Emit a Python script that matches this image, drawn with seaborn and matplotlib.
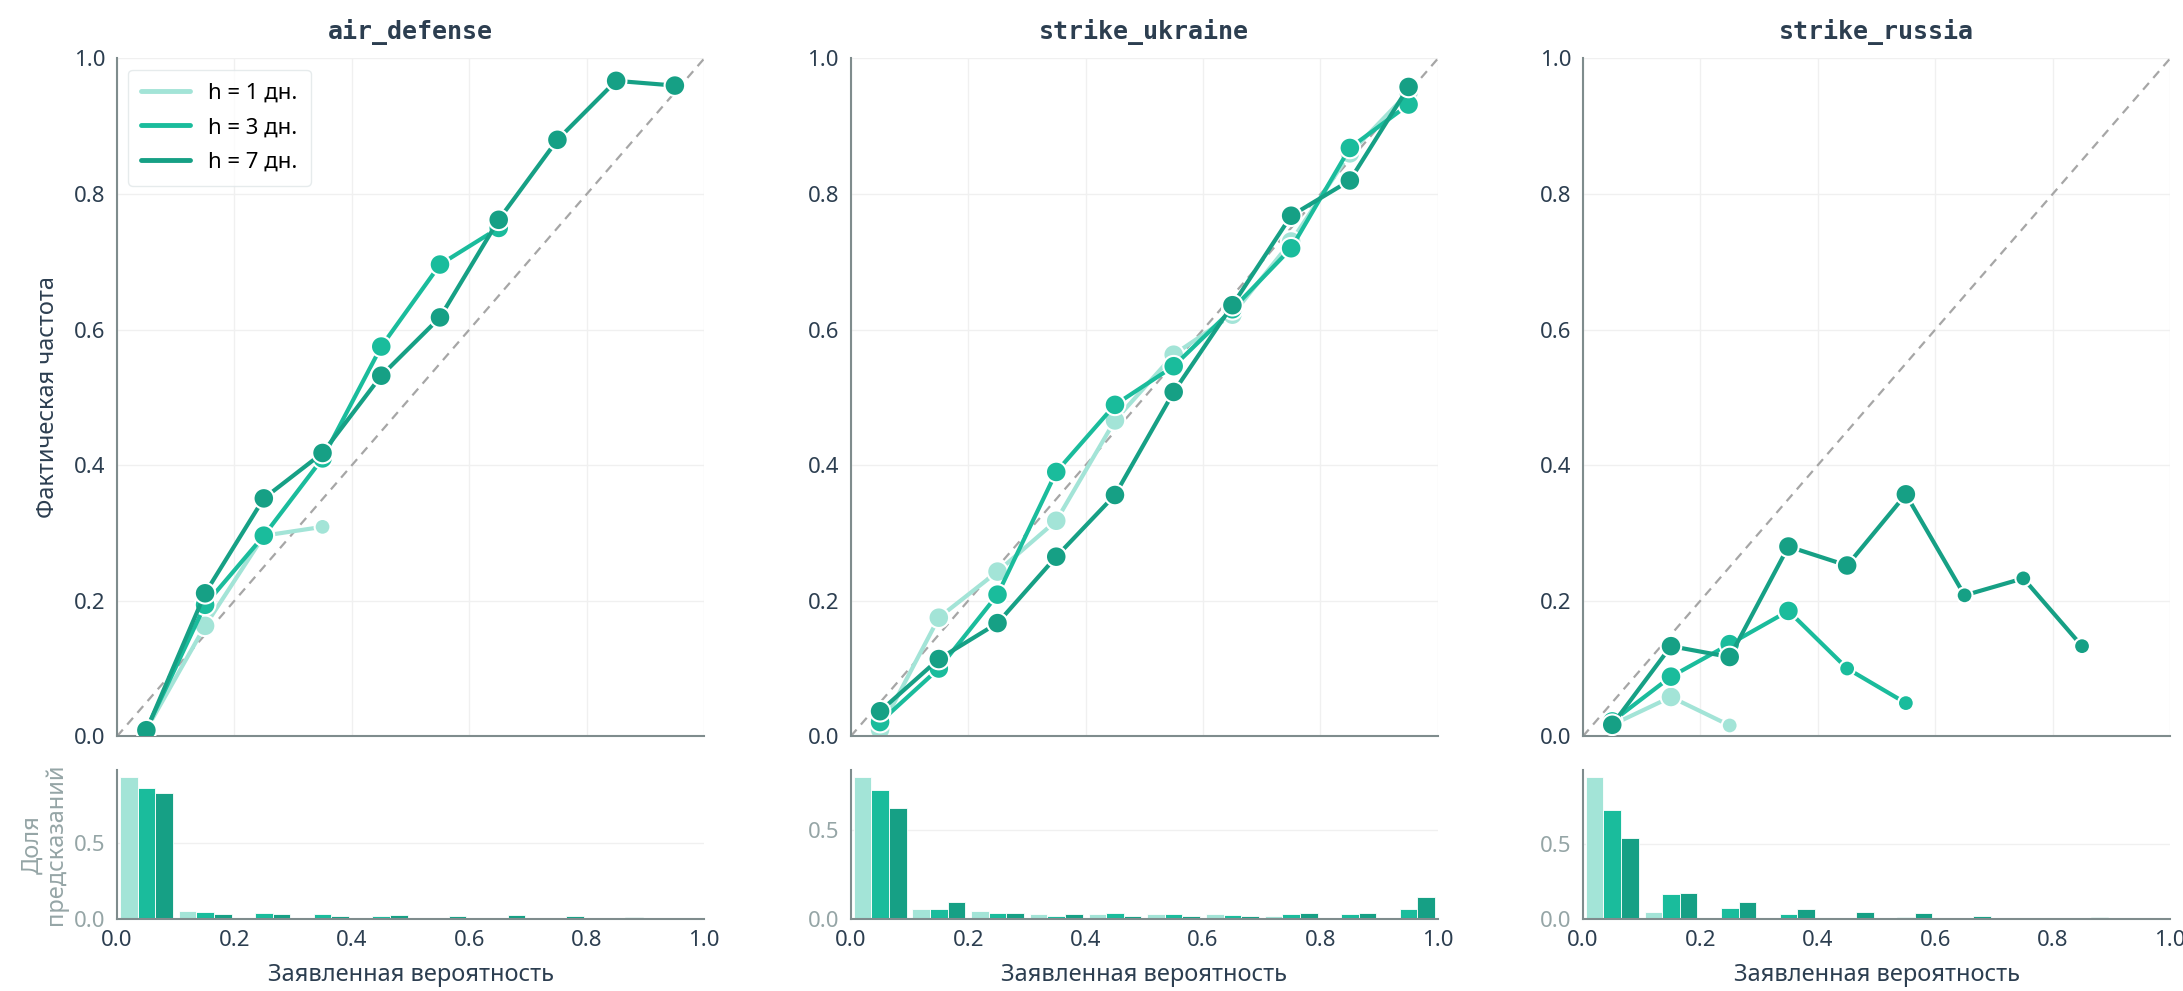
import numpy as np
import pandas as pd
import matplotlib
matplotlib.use('Agg')
import matplotlib.pyplot as plt
from matplotlib.lines import Line2D
import seaborn as sns

#### Data

bin_centers = [0.05, 0.15, 0.25, 0.35, 0.45, 0.55, 0.65, 0.75, 0.85, 0.95]
horizons = ['h = 1 дн.', 'h = 3 дн.', 'h = 7 дн.']
panels = ['air_defense', 'strike_ukraine', 'strike_russia']

# reliability curves (observed frequency per bin)
air_h1 = [0.01, 0.163, 0.296, 0.309]
air_h3 = [0.01, 0.194, 0.296, 0.41, 0.575, 0.696, 0.75]
air_h7 = [0.009, 0.211, 0.351, 0.418, 0.532, 0.618, 0.762, 0.88, 0.967, 0.96]

ukr_h1 = [0.01, 0.175, 0.243, 0.318, 0.466, 0.563, 0.622, 0.73, 0.86, 0.95]
ukr_h3 = [0.021, 0.10, 0.209, 0.39, 0.489, 0.546, 0.63, 0.72, 0.868, 0.932]
ukr_h7 = [0.037, 0.114, 0.167, 0.265, 0.356, 0.508, 0.636, 0.768, 0.82, 0.958]

rus_h1 = [0.017, 0.058, 0.016]
rus_h3 = [0.022, 0.088, 0.136, 0.185, 0.10, 0.049]
rus_h7 = [0.017, 0.133, 0.117, 0.28, 0.252, 0.357, 0.208, 0.233, 0.133]

# bins with few forecasts (drawn with smaller markers)
air_sparse = {0: [0.35], 1: [], 2: []}
ukr_sparse = {0: [], 1: [], 2: []}
rus_sparse = {0: [0.25], 1: [0.45, 0.55], 2: [0.65, 0.75, 0.85]}

# share of forecasts per bin
air_share_h1 = [0.939, 0.052, 0.004, 0.002, 0.0, 0.0, 0.0, 0.0, 0.0, 0.0]
air_share_h3 = [0.867, 0.046, 0.035, 0.028, 0.02, 0.003, 0.002, 0.0, 0.0, 0.0]
air_share_h7 = [0.832, 0.033, 0.033, 0.02, 0.026, 0.02, 0.026, 0.017, 0.009, 0.003]

ukr_share_h1 = [0.796, 0.052, 0.041, 0.028, 0.024, 0.024, 0.028, 0.017, 0.005, 0.003]
ukr_share_h3 = [0.722, 0.056, 0.03, 0.017, 0.03, 0.024, 0.022, 0.024, 0.028, 0.056]
ukr_share_h7 = [0.622, 0.094, 0.033, 0.028, 0.017, 0.017, 0.015, 0.03, 0.03, 0.12]

rus_share_h1 = [0.951, 0.046, 0.003, 0.0, 0.0, 0.0, 0.0, 0.0, 0.0, 0.0]
rus_share_h3 = [0.73, 0.166, 0.071, 0.029, 0.003, 0.009, 0.0, 0.0, 0.0, 0.0]
rus_share_h7 = [0.544, 0.175, 0.113, 0.064, 0.042, 0.038, 0.018, 0.003, 0.009, 0.0]

curves = {'air_defense': [air_h1, air_h3, air_h7],
          'strike_ukraine': [ukr_h1, ukr_h3, ukr_h7],
          'strike_russia': [rus_h1, rus_h3, rus_h7]}
shares = {'air_defense': [air_share_h1, air_share_h3, air_share_h7],
          'strike_ukraine': [ukr_share_h1, ukr_share_h3, ukr_share_h7],
          'strike_russia': [rus_share_h1, rus_share_h3, rus_share_h7]}
sparse = {'air_defense': air_sparse, 'strike_ukraine': ukr_sparse,
          'strike_russia': rus_sparse}

#### Style

palette = ['#a3e4d7', '#1abc9c', '#16a085']
dark = '#2c3e50'
spine = '#7f8c8d'
muted = '#95a5a6'

sns.set_style('white')
plt.rcParams['font.family'] = ['Noto Sans', 'DejaVu Sans']
plt.rcParams['xtick.color'] = spine
plt.rcParams['ytick.color'] = spine
plt.rcParams['xtick.labelcolor'] = dark
plt.rcParams['ytick.labelcolor'] = dark

fig = plt.figure(figsize=(21.83, 9.91), dpi=100)
lefts = [0.0536, 0.3897, 0.7251]
width = 0.269

for i, name in enumerate(panels):
    ax = fig.add_axes([lefts[i], 0.257, width, 0.684])
    axh = fig.add_axes([lefts[i], 0.073, width, 0.150])

    ax.plot([0, 1], [0, 1], ls=(0, (4, 3)), color='#a6a6a6', lw=1.6, zorder=1)

    for k, h in enumerate(horizons):
        ys = curves[name][k]
        df = pd.DataFrame({'x': bin_centers[:len(ys)], 'y': ys})
        df['size'] = np.where(df['x'].round(2).isin(sparse[name][k]), 'small', 'big')
        sns.lineplot(data=df, x='x', y='y', ax=ax, color=palette[k], lw=3,
                     zorder=2 + k, legend=False)
        sns.scatterplot(data=df, x='x', y='y', ax=ax, color=palette[k],
                        size='size', sizes={'big': 220, 'small': 130},
                        edgecolor='white', linewidth=1.5, zorder=2 + k, legend=False)

    ax.set_xlim(0, 1)
    ax.set_ylim(0, 1)
    ax.set_xticks(np.arange(0, 1.01, 0.2))
    ax.set_yticks(np.arange(0, 1.01, 0.2))
    ax.set_xticklabels([])
    ax.tick_params(axis='x', length=0)
    ax.tick_params(axis='y', labelsize=16, length=5, width=1.2)
    ax.set_yticklabels(['0.0', '0.2', '0.4', '0.6', '0.8', '1.0'])
    ax.grid(True, color='#f0f0f0', lw=1)
    ax.set_xlabel('')
    ax.set_ylabel('Фактическая частота' if i == 0 else '', fontsize=17, color=dark,
                  labelpad=10)
    ax.set_title(name, fontsize=18, fontweight='bold', color=dark,
                 family='DejaVu Sans Mono', pad=14)
    sns.despine(ax=ax)
    for s in ['left', 'bottom']:
        ax.spines[s].set_color(spine)
        ax.spines[s].set_linewidth(1.5)

    if i == 0:
        handles = [Line2D([0], [0], color=c, lw=3.5) for c in palette]
        leg = ax.legend(handles, horizons, loc='upper left', fontsize=16,
                        frameon=True, handlelength=2.2, borderpad=0.6,
                        labelspacing=0.6)
        leg.get_frame().set_edgecolor('#e0e6e8')
        for t in leg.get_texts():
            t.set_color('black')

    hist_df = pd.DataFrame({
        'x': bin_centers * 3,
        'w': shares[name][0] + shares[name][1] + shares[name][2],
        'h': [hh for hh in horizons for _ in bin_centers],
    })
    sns.histplot(data=hist_df, x='x', weights='w', hue='h', hue_order=horizons,
                 palette=palette, binwidth=0.1, binrange=(0, 1), multiple='dodge',
                 shrink=0.9, alpha=1, edgecolor='white', linewidth=0.6,
                 legend=False, ax=axh)
    axh.set_xlim(0, 1)
    axh.set_xticks(np.arange(0, 1.01, 0.2))
    axh.set_xticklabels(['0.0', '0.2', '0.4', '0.6', '0.8', '1.0'])
    axh.set_yticks([0, 0.5])
    axh.set_yticklabels(['0.0', '0.5'])
    axh.tick_params(axis='x', labelsize=16, length=5, width=1.2)
    axh.tick_params(axis='y', labelsize=16, length=5, width=1.2, labelcolor=muted)
    axh.grid(True, axis='y', color='#f0f0f0', lw=1)
    axh.set_axisbelow(True)
    axh.set_xlabel('Заявленная вероятность', fontsize=17, color=dark, labelpad=8)
    axh.set_ylabel('Доля\nпредсказаний' if i == 0 else '', fontsize=17,
                   color=muted, linespacing=1.0)
    sns.despine(ax=axh)
    for s in ['left', 'bottom']:
        axh.spines[s].set_color(spine)
        axh.spines[s].set_linewidth(1.5)

fig.savefig('out.png', dpi=100)
